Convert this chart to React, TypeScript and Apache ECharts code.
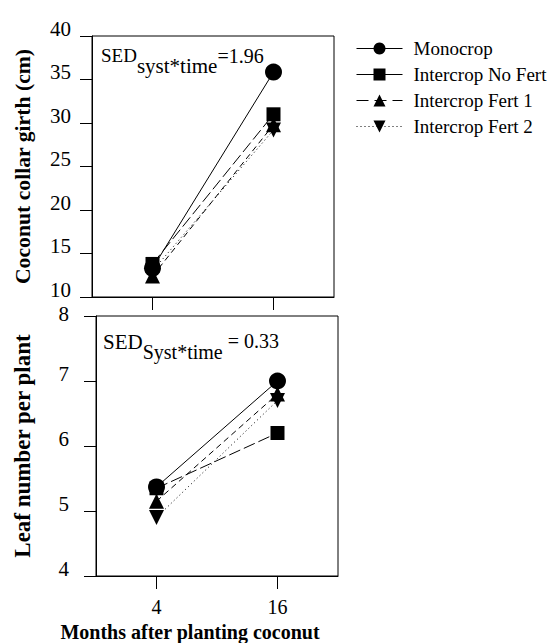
import React, { useEffect, useRef } from "react";
import * as echarts from "echarts";

const months = [4, 16];
const seriesNames = ["Monocrop", "Intercrop No Fert", "Intercrop Fert 1", "Intercrop Fert 2"];
const girthMonocrop = [13.3, 35.85];
const girthNoFert = [13.8, 31.0];
const girthFert1 = [12.4, 29.8];
const girthFert2 = [13.0, 29.2];
const leafMonocrop = [5.37, 7.0];
const leafNoFert = [5.35, 6.2];
const leafFert1 = [5.15, 6.8];
const leafFert2 = [4.9, 6.7];
const girthTicks = [10, 15, 20, 25, 30, 35, 40];
const leafTicks = [4, 5, 6, 7, 8];

const FONT = "Liberation Serif";

const styles = [
  { symbol: "circle", symbolSize: 17, symbolRotate: 0, lineType: "solid" as any, legendLine: "solid" as any },
  { symbol: "rect", symbolSize: 14, symbolRotate: 0, lineType: [12, 4] as any, legendLine: "solid" as any },
  { symbol: "triangle", symbolSize: 15, symbolRotate: 0, lineType: [6, 4] as any, legendLine: [12, 6] as any },
  { symbol: "triangle", symbolSize: 15, symbolRotate: 180, lineType: [1, 3] as any, legendLine: [1, 3] as any },
];

export default function App() {
  const ref = useRef<HTMLDivElement>(null);
  useEffect(() => {
    if (!ref.current) return;
    const chart = echarts.init(ref.current, undefined, { renderer: "svg" });
    const girth = [girthMonocrop, girthNoFert, girthFert1, girthFert2];
    const leaf = [leafMonocrop, leafNoFert, leafFert1, leafFert2];
    const mk = (vals: number[], i: number, gi: number) => ({
      type: "line",
      name: seriesNames[i],
      xAxisIndex: gi,
      yAxisIndex: gi,
      data: months.map((m, k) => [m, vals[k]]),
      symbol: styles[i].symbol,
      symbolSize: styles[i].symbolSize,
      symbolRotate: styles[i].symbolRotate,
      itemStyle: { color: "#000" },
      lineStyle: { color: "#000", width: 1, type: styles[i].lineType },
      z: 10 - i,
    });
    const yCommon = {
      type: "value",
      axisLine: { show: true, onZero: false, lineStyle: { color: "#000", width: 1 } },
      axisTick: { show: true, inside: false, length: 12, lineStyle: { color: "#000" } },
      splitLine: { show: false },
      nameLocation: "middle",
      nameRotate: 90,
    };
    const xCommon = {
      type: "value",
      min: -2,
      max: 22,
      axisLine: { show: true, onZero: false, lineStyle: { color: "#000", width: 1 } },
      axisTick: { show: true, inside: false, length: 13, customValues: months, lineStyle: { color: "#000" } },
      splitLine: { show: false },
    };
    const yLabel = (margin: number, topValue: number | null) => ({
      margin,
      fontFamily: FONT,
      fontSize: 21,
      color: "#000",
      verticalAlign: "bottom",
      lineHeight: 15,
      formatter: (v: number) => (v === topValue ? `{t|${v}}` : `${v}`),
      rich: { t: { fontFamily: FONT, fontSize: 21, lineHeight: 4, color: "#000" } },
    });
    chart.setOption({
      animation: false,
      backgroundColor: "#fff",
      grid: [
        { left: 92, top: 36, width: 242, height: 261, show: true, borderColor: "#000", borderWidth: 1 },
        { left: 96, top: 316, width: 242, height: 260, show: true, borderColor: "#000", borderWidth: 1 },
      ],
      xAxis: [
        { ...xCommon, gridIndex: 0, axisLabel: { show: false } },
        {
          ...xCommon,
          gridIndex: 1,
          axisLabel: { show: true, customValues: months, margin: 21, fontFamily: FONT, fontSize: 20, color: "#000" },
          name: "Months after planting coconut",
          nameLocation: "middle",
          nameGap: 46,
          nameTextStyle: { fontFamily: FONT, fontWeight: "bold", fontSize: 20, color: "#000", padding: [0, 54, 0, 0] },
        },
      ],
      yAxis: [
        {
          ...yCommon,
          gridIndex: 0,
          min: girthTicks[0],
          max: girthTicks[girthTicks.length - 1],
          interval: 5,
          name: "Coconut collar girth (cm)",
          nameGap: 58,
          nameTextStyle: { fontFamily: FONT, fontWeight: "bold", fontSize: 21.7, color: "#000" },
          axisLabel: yLabel(21, null),
        },
        {
          ...yCommon,
          gridIndex: 1,
          min: leafTicks[0],
          max: leafTicks[leafTicks.length - 1],
          interval: 1,
          name: "Leaf number per plant",
          nameGap: 62,
          nameTextStyle: { fontFamily: FONT, fontWeight: "bold", fontSize: 23, color: "#000" },
          axisLabel: yLabel(27, leafTicks[leafTicks.length - 1]),
        },
      ],
      legend: {
        orient: "vertical",
        left: 351,
        top: 34,
        itemWidth: 46,
        itemHeight: 15,
        itemGap: 7,
        data: seriesNames.map((n, i) => ({
          name: n,
          lineStyle: { type: styles[i].legendLine, color: "#000", width: 1 },
        })),
        textStyle: { fontFamily: FONT, fontSize: 19, color: "#000", padding: [0, 0, 0, 6] },
        selectedMode: false,
      },
      graphic: [
        {
          type: "text",
          left: 101,
          top: 46,
          style: {
            text: "{m|SED}{s|syst*time}{n|=1.96}",
            fontFamily: FONT,
            rich: {
              m: { fontFamily: FONT, fontSize: 19, lineHeight: 19, verticalAlign: "top", fill: "#000" },
              s: { fontFamily: FONT, fontSize: 21, lineHeight: 30, verticalAlign: "bottom", fill: "#000" },
              n: { fontFamily: FONT, fontSize: 20, lineHeight: 19, verticalAlign: "top", fill: "#000" },
            },
          },
        },
        {
          type: "text",
          left: 103,
          top: 331,
          style: {
            text: "{m|SED}{s|Syst*time}{n| = 0.33}",
            fontFamily: FONT,
            rich: {
              m: { fontFamily: FONT, fontSize: 21, lineHeight: 21, verticalAlign: "top", fill: "#000" },
              s: { fontFamily: FONT, fontSize: 20, lineHeight: 31, verticalAlign: "bottom", fill: "#000" },
              n: { fontFamily: FONT, fontSize: 20, lineHeight: 21, verticalAlign: "top", fill: "#000" },
            },
          },
        },
      ],
      series: [
        ...girth.map((v, i) => mk(v, i, 0)),
        ...leaf.map((v, i) => mk(v, i, 1)),
      ],
    } as any);
    return () => chart.dispose();
  }, []);
  return (
    <div
      ref={ref}
      style={{ position: "fixed", left: 0, top: 0, width: 553, height: 643, background: "#fff" }}
    />
  );
}
